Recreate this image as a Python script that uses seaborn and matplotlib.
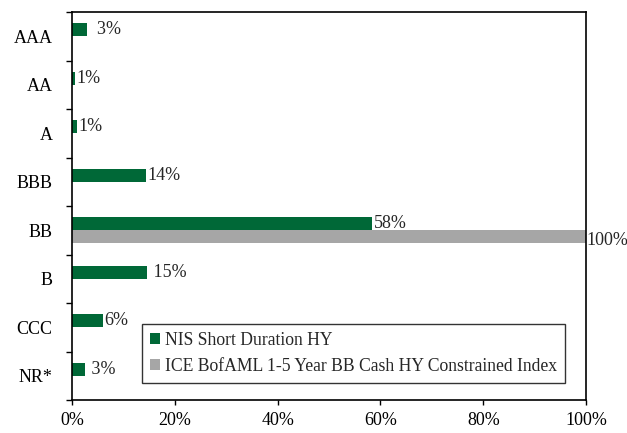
import pandas as pd
import seaborn as sns
import matplotlib.pyplot as plt
from matplotlib.ticker import FixedLocator, PercentFormatter

ratings = ["AAA", "AA", "A", "BBB", "BB", "B", "CCC", "NR*"]
fund_vals = [2.9, 0.5, 1.0, 14.4, 58.4, 14.6, 6.0, 2.6]
index_vals = [0, 0, 0, 0, 100, 0, 0, 0]
fund_labels = ["  3%", "1%", "1%", "14%", "58%", " 15%", "6%", " 3%"]
fund_name = "NIS Short Duration HY"
index_name = "ICE BofAML 1-5 Year BB Cash HY Constrained Index"

df = pd.DataFrame({
    "rating": ratings * 2,
    "series": [fund_name] * len(ratings) + [index_name] * len(ratings),
    "value": fund_vals + index_vals,
})

sns.set_style("white")
plt.rcParams["font.family"] = ["Liberation Serif", "DejaVu Serif"]
fs = 13

fig = plt.figure(figsize=(6.27, 4.33), dpi=100)
ax = fig.add_axes([0.1148, 0.0762, 0.82, 0.896])

sns.barplot(data=df, x="value", y="rating", hue="series", orient="h",
            palette=["#006837", "#a6a6a6"], saturation=1, width=0.54,
            linewidth=0, dodge=True, ax=ax)

ax.set_xlim(0, 100)
ax.set_ylim(len(ratings) - 0.5, -0.5)
ax.set_xlabel("")
ax.set_ylabel("")

for sp in ax.spines.values():
    sp.set_visible(True)
    sp.set_color("black")
    sp.set_linewidth(1.2)

ax.xaxis.set_major_locator(FixedLocator([0, 20, 40, 60, 80, 100]))
ax.xaxis.set_major_formatter(PercentFormatter(decimals=0))
ax.tick_params(axis="x", length=3.6, width=1, direction="out", pad=5,
               bottom=True, labelsize=fs, colors="black")
ax.tick_params(axis="y", which="major", length=0, pad=14, labelsize=fs,
               labelcolor="black")
ax.yaxis.set_minor_locator(FixedLocator([i - 0.5 for i in range(len(ratings) + 1)]))
ax.tick_params(axis="y", which="minor", length=4.3, width=1, direction="out",
               left=True, color="black")

for i, (v, lab) in enumerate(zip(fund_vals, fund_labels)):
    ax.text(v + 0.3, i - 0.135, lab, va="center", ha="left", fontsize=fs)
ax.text(100, 4 + 0.22, "100%", va="center", ha="left", fontsize=fs,
        clip_on=False)

leg = ax.legend(loc="lower left", bbox_to_anchor=(0.136, 0.045),
                frameon=True, fancybox=False, edgecolor="black",
                handlelength=0.6, handleheight=0.6, handletextpad=0.25,
                labelspacing=0.5, borderpad=0.45, borderaxespad=0,
                fontsize=12.7)
leg.get_frame().set_linewidth(1.0)

fig.savefig("out.png", dpi=100)
